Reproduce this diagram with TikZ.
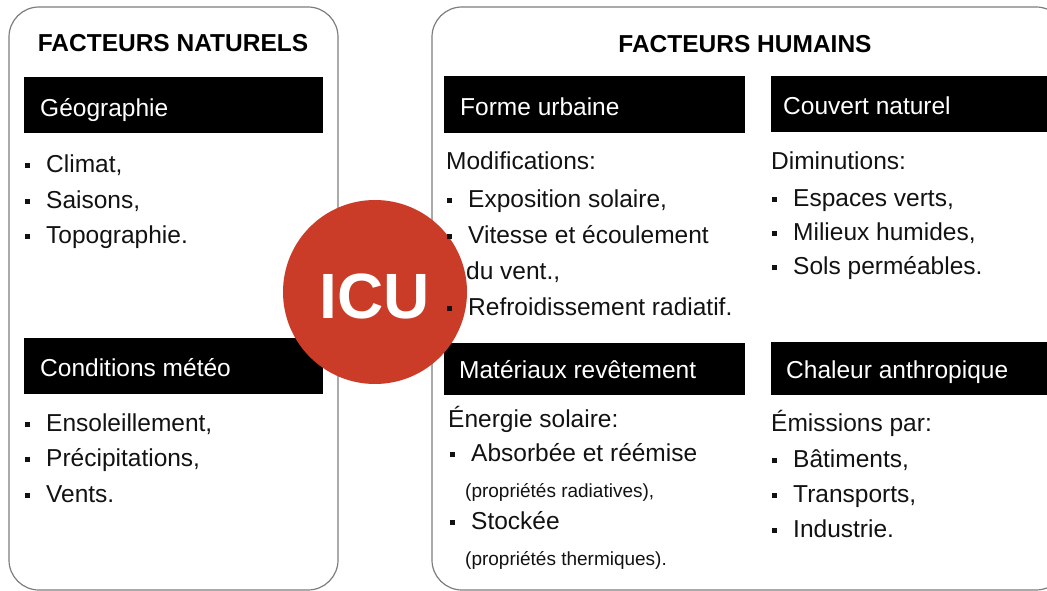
\documentclass[tikz,border=0pt]{standalone}
\usepackage{fontspec}
\setmainfont{Liberation Sans}
\definecolor{rougeicu}{RGB}{202,59,40}
\definecolor{grisbord}{RGB}{125,125,125}
\newcommand{\puce}{\rule[4pt]{5pt}{5pt}\hspace{16pt}}
\begin{document}
\begin{tikzpicture}[x=1pt, y=-1pt, line join=round, line cap=round,
  cadre/.style={draw=grisbord, line width=1.2pt, rounded corners=30pt},
  texte/.style={anchor=base west, inner sep=0pt, text=black!93, font=\fontsize{24.5}{29}\selectfont},
  petit/.style={texte, font=\fontsize{19}{23}\selectfont},
  entete/.style={texte, text=white},
  titre/.style={anchor=base, inner sep=0pt, font=\bfseries\fontsize{24.5}{29}\selectfont}]
\clip (0,0) rectangle (1047,591);
% Les deux cadres
\draw[cadre] (9,7) rectangle (338,590);
\draw[cadre] (432,7) rectangle (1066,590);
% Titres
\node[titre] (naturels) at (173,52) {FACTEURS NATURELS};
\node[titre] (humains) at (745,53) {FACTEURS HUMAINS};
% Bandeaux noirs
\fill[black] (24,77) rectangle (323,133);
\fill[black] (24,338) rectangle (323,394);
\fill[black] (444,76) rectangle (745,133);
\fill[black] (771,76) rectangle (1047,132);
\fill[black] (444,343) rectangle (745,395);
\fill[black] (771,342) rectangle (1047,395);
% Disque ICU
\fill[rougeicu] (375,292) circle (92);
\node[anchor=base, inner sep=0pt, text=white, font=\bfseries\fontsize{64}{70}\selectfont] (icu) at (375,318) {ICU};
% Titres des bandeaux
\node[entete] (geo) at (40,117) {Géographie};
\node[entete] (meteo) at (40,376) {Conditions météo};
\node[entete] (forme) at (460,116) {Forme urbaine};
\node[entete] (couvert) at (783,115) {Couvert naturel};
\node[entete] (materiaux) at (459,378) {Matériaux revêtement};
\node[entete] (chaleur) at (786,378) {Chaleur anthropique};
% Facteurs naturels
\foreach \y/\t [count=\i] in {172/{Climat,}, 208/{Saisons,}, 243/{Topographie.}}
  \node[texte] (geo-\i) at (25,\y) {\puce\t};
\foreach \y/\t [count=\i] in {431/{Ensoleillement,}, 466/{Précipitations,}, 502/{Vents.}}
  \node[texte] (meteo-\i) at (25,\y) {\puce\t};
% Forme urbaine
\node[texte] (modif) at (446,170) {Modifications:};
\node[texte] (forme-1) at (447,207) {\puce Exposition solaire,};
\node[texte] (forme-2) at (447,243) {\puce Vitesse et écoulement};
\node[texte] (forme-2b) at (466,279) {du vent.,};
\node[texte] (forme-3) at (447,315) {\puce Refroidissement radiatif.};
% Couvert naturel
\node[texte] (dimin) at (771,170) {Diminutions:};
\foreach \y/\t [count=\i] in {206/{Espaces verts,}, 240/{Milieux humides,}, 274/{Sols perméables.}}
  \node[texte] (couvert-\i) at (772,\y) {\puce\t};
% Matériaux revêtement
\node[texte] (energie) at (448,427) {Énergie solaire:};
\node[texte] (mat-1) at (450,461) {\puce Absorbée et réémise};
\node[petit] (mat-1b) at (465,497) {(propriétés radiatives),};
\node[texte] (mat-2) at (450,529) {\puce Stockée};
\node[petit] (mat-2b) at (465,565) {(propriétés thermiques).};
% Chaleur anthropique
\node[texte] (emis) at (771,431) {Émissions par:};
\foreach \y/\t [count=\i] in {467/{Bâtiments,}, 502/{Transports,}, 537/{Industrie.}}
  \node[texte] (chaleur-\i) at (772,\y) {\puce\t};
\end{tikzpicture}
\end{document}
